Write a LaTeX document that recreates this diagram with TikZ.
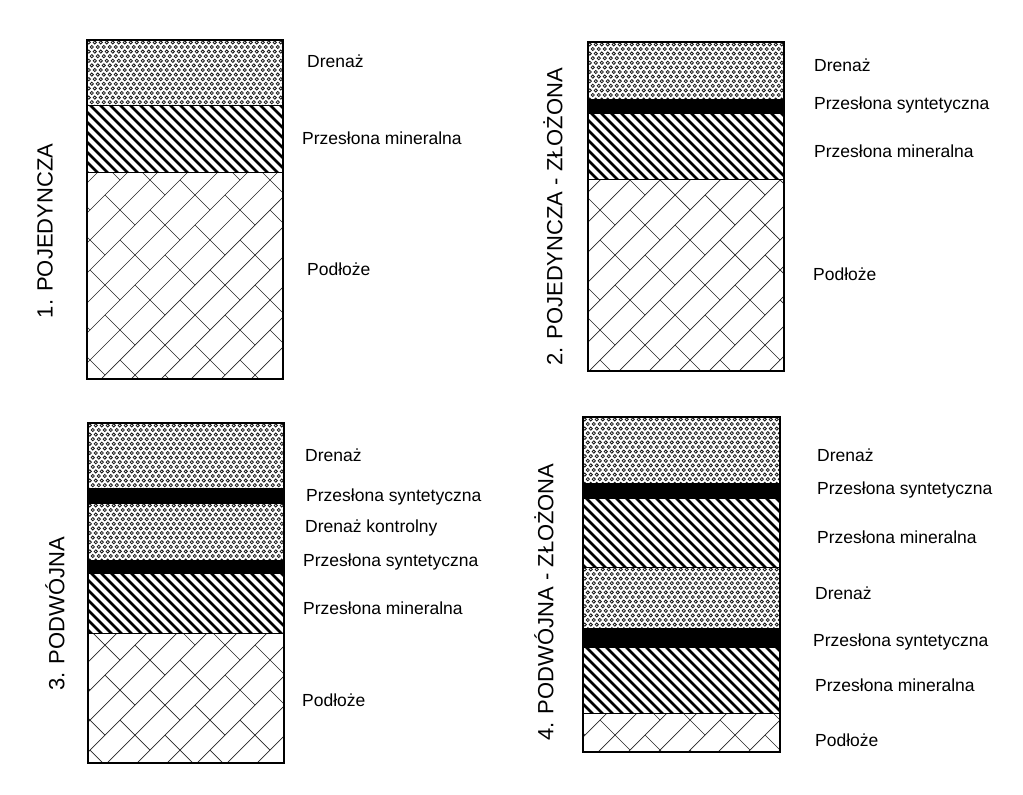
\documentclass[tikz,border=0pt]{standalone}
\usepackage{fontspec}
\setmainfont{Liberation Sans}
\newcommand\drenazlayer[4]{%
  \begin{scope}
    \clip (#1,#2) rectangle (#3,#4);
    \pgfmathtruncatemacro\nrows{(#4-#2)/4.6+1}
    \pgfmathtruncatemacro\ncols{(#3-#1)/6+1}
    \foreach \i in {0,...,\nrows}{
      \foreach \j in {0,...,\ncols}{
        \pgfmathsetmacro\cx{#1+1.8+\j*6+Mod(\i,2)*3}
        \pgfmathsetmacro\cy{#2+2.4+\i*4.6}
        \draw[ring] (\cx,\cy) circle[radius=1.6pt];
      }}
  \end{scope}
  \draw[edge] (#1,#2) rectangle (#3,#4);}
\newcommand\minlayer[4]{%
  \begin{scope}
    \clip (#1,#2) rectangle (#3,#4);
    \pgfmathsetmacro\hh{#4-#2+6}
    \pgfmathtruncatemacro\kmin{-(#4-#2)/10-2}
    \pgfmathtruncatemacro\kmax{(#3-#1)/10+1}
    \foreach \k in {\kmin,...,\kmax}{
      \draw[stripe] (#1+\k*10,#2-3) -- ++(\hh,\hh);
    }
  \end{scope}
  \draw[edge] (#1,#2) rectangle (#3,#4);}
\newcommand\synlayer[4]{\fill[black] (#1,#2) rectangle (#3,#4);}
\newcommand\podlayer[4]{%
  \begin{scope}
    \clip (#1,#2) rectangle (#3,#4);
    \pgfmathtruncatemacro\nmin{(#1+#2)/30-4}
    \pgfmathtruncatemacro\nmax{(#3+#4)/30+1}
    \pgfmathtruncatemacro\mmin{(#1-#4)/60-3}
    \pgfmathtruncatemacro\mmax{(#3-#2)/60+2}
    \foreach \n in {\nmin,...,\nmax}{
      \pgfmathsetmacro\cc{\n*30}
      \draw[brick] (\cc-#4-40,#4+40) -- (\cc-#2+40,#2-40);
      \pgfmathtruncatemacro\nm{Mod(\n,4)}
      \ifnum\nm=0
        \foreach \m in {\mmin,...,\mmax}{
          \pgfmathsetmacro\dd{\m*60}
          \draw[brick] ({(\cc+\dd)/2},{(\cc-\dd)/2}) -- ({(\cc+60+\dd)/2},{(\cc+60-\dd)/2});
        }
      \fi
      \ifnum\nm=2
        \foreach \m in {\mmin,...,\mmax}{
          \pgfmathsetmacro\dd{\m*60+30}
          \draw[brick] ({(\cc+\dd)/2},{(\cc-\dd)/2}) -- ({(\cc+60+\dd)/2},{(\cc+60-\dd)/2});
        }
      \fi
    }
  \end{scope}
  \draw[edge] (#1,#2) rectangle (#3,#4);}
\begin{document}
\begin{tikzpicture}[x=1pt,y=-1pt,
  ring/.style={line width=0.8pt, black!90},
  stripe/.style={line width=2.7pt, black},
  brick/.style={line width=0.7pt, black!85},
  edge/.style={line width=0.8pt, black},
  frame/.style={line width=1.1pt, black},
  lbl/.style={anchor=west, inner sep=0pt, font=\fontsize{17.5}{20}\selectfont},
  ttl/.style={rotate=90, inner sep=0pt, font=\fontsize{22}{26}\selectfont}]
\useasboundingbox[fill=white] (0,0) rectangle (1023,795);

% Column 1
\drenazlayer{87}{40}{283}{105}
\minlayer{87}{105}{283}{172}
\podlayer{87}{172}{283}{379}
\draw[frame] (87,40) rectangle (283,379);

% Column 2
\drenazlayer{588}{42}{784}{99}
\synlayer{588}{99}{784}{113}
\minlayer{588}{113}{784}{179}
\podlayer{588}{179}{784}{371}
\draw[frame] (588,42) rectangle (784,371);

% Column 3
\drenazlayer{88}{423}{284}{488}
\synlayer{88}{488}{284}{503}
\drenazlayer{88}{503}{284}{560}
\synlayer{88}{560}{284}{573}
\minlayer{88}{573}{284}{633}
\podlayer{88}{633}{284}{763}
\draw[frame] (88,423) rectangle (284,763);

% Column 4
\drenazlayer{583}{417}{780}{483}
\synlayer{583}{483}{780}{498}
\minlayer{583}{498}{780}{567}
\drenazlayer{583}{567}{780}{628}
\synlayer{583}{628}{780}{647}
\minlayer{583}{647}{780}{713}
\podlayer{583}{713}{780}{752}
\draw[frame] (583,417) rectangle (780,752);

% Titles
\node[ttl] (t1) at (45,231) {1. POJEDYNCZA};
\node[ttl] (t2) at (553,217) {2. POJEDYNCZA - ZŁOŻONA};
\node[ttl] (t3) at (55,614) {3. PODWÓJNA};
\node[ttl] (t4) at (544,602) {4. PODWÓJNA - ZŁOŻONA};

% Labels column 1
\node[lbl] (a1) at (307,61) {Drenaż};
\node[lbl] (a2) at (302,138) {Przesłona mineralna};
\node[lbl] (a3) at (307,269) {Podłoże};
% Labels column 2
\node[lbl] (b1) at (814,65) {Drenaż};
\node[lbl] (b2) at (814,105) {Przesłona syntetyczna};
\node[lbl] (b3) at (814,151) {Przesłona mineralna};
\node[lbl] (b4) at (813,274) {Podłoże};
% Labels column 3
\node[lbl] (c1) at (305,455) {Drenaż};
\node[lbl] (c2) at (306,497) {Przesłona syntetyczna};
\node[lbl] (c3) at (305,528) {Drenaż kontrolny};
\node[lbl] (c4) at (303,562) {Przesłona syntetyczna};
\node[lbl] (c5) at (303,608) {Przesłona mineralna};
\node[lbl] (c6) at (302,700) {Podłoże};
% Labels column 4
\node[lbl] (d1) at (817,455) {Drenaż};
\node[lbl] (d2) at (817,490) {Przesłona syntetyczna};
\node[lbl] (d3) at (817,537) {Przesłona mineralna};
\node[lbl] (d4) at (815,593) {Drenaż};
\node[lbl] (d5) at (813,642) {Przesłona syntetyczna};
\node[lbl] (d6) at (815,685) {Przesłona mineralna};
\node[lbl] (d7) at (815,740) {Podłoże};
\end{tikzpicture}
\end{document}
